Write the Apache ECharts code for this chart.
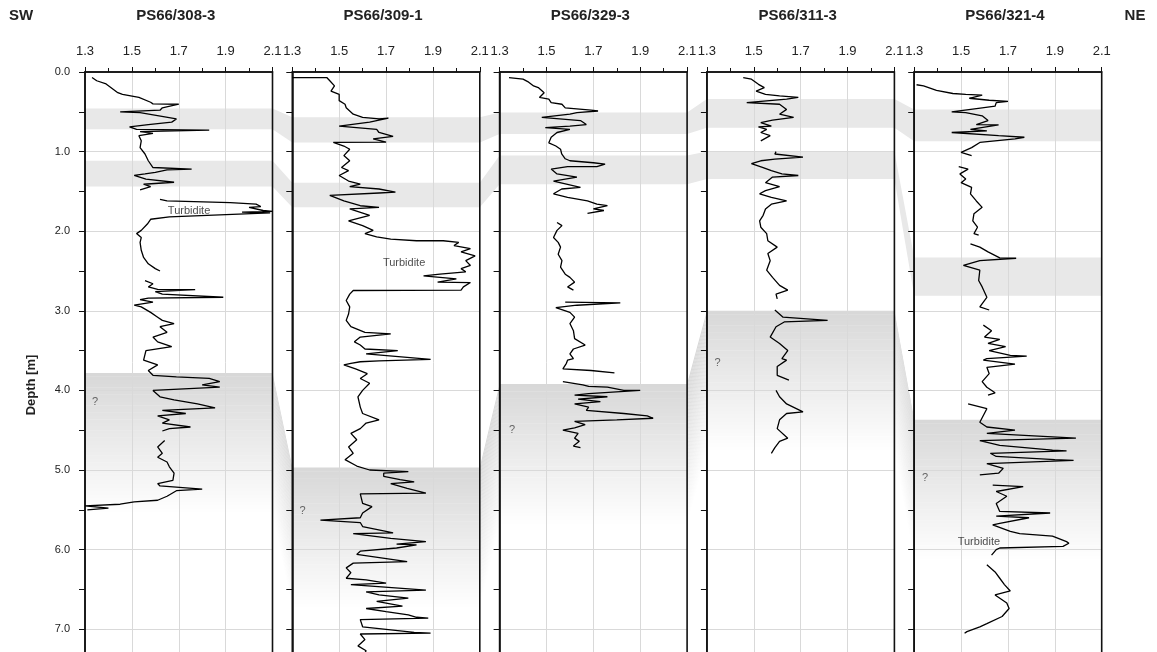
<!DOCTYPE html>
<html><head><meta charset="utf-8">
<script src="https://cdn.jsdelivr.net/npm/echarts@6.0.0/dist/echarts.min.js"></script>
<style>html,body{margin:0;padding:0;background:#fff}#c{width:1157px;height:652px}</style>
</head><body><div id="c"></div>
<script>
// ---------------- DATA ----------------
const coreNames = ['PS66/308-3', 'PS66/309-1', 'PS66/329-3', 'PS66/311-3', 'PS66/321-4'];
const sideLabels = ['SW', 'NE'];
const axisTitle = 'Depth [m]';

// [density (g/cm3), depth (m)] ; null = gap in record
const core308 = [[1.33,0.07],[1.35,0.11],[1.39,0.15],[1.44,0.26],[1.46,0.28],[1.53,0.32],[1.58,0.38],[1.59,0.40],[1.70,0.405],[1.63,0.45],[1.62,0.48],[1.45,0.50],[1.535,0.51],[1.69,0.59],[1.67,0.63],[1.57,0.66],[1.49,0.69],[1.52,0.72],[1.83,0.73],[1.535,0.75],[1.59,0.77],[1.53,0.80],[1.54,0.865],[1.535,0.95],[1.556,1.03],[1.57,1.115],[1.59,1.2],[1.755,1.22],[1.65,1.23],[1.6,1.26],[1.556,1.28],[1.51,1.30],[1.56,1.345],[1.68,1.385],[1.55,1.41],[1.58,1.44],[1.535,1.48],null,
[1.62,1.60],[1.65,1.62],[1.92,1.64],[2.03,1.66],[2.05,1.69],[2.0,1.70],[2.06,1.74],[2.1,1.75],[1.97,1.76],[2.09,1.77],[1.66,1.82],[1.58,1.85],[1.566,1.91],[1.54,1.99],[1.52,2.03],[1.54,2.08],[1.535,2.14],[1.54,2.24],[1.55,2.33],[1.57,2.41],[1.6,2.47],[1.62,2.5],null,
[1.556,2.62],[1.59,2.66],[1.57,2.70],[1.61,2.73],[1.77,2.735],[1.6,2.76],[1.63,2.79],[1.89,2.83],[1.57,2.84],[1.535,2.86],[1.59,2.89],[1.51,2.93],[1.54,2.95],[1.58,3.02],[1.61,3.08],[1.63,3.12],[1.68,3.16],[1.62,3.2],[1.65,3.27],[1.59,3.33],[1.61,3.39],[1.67,3.45],[1.56,3.5],[1.55,3.62],[1.61,3.68],[1.57,3.75],[1.59,3.81],[1.69,3.83],[1.83,3.85],[1.875,3.89],[1.8,3.93],[1.875,3.96],[1.59,4.0],[1.62,4.08],[1.68,4.12],[1.78,4.17],[1.855,4.22],[1.63,4.25],[1.73,4.29],[1.61,4.32],[1.66,4.37],[1.63,4.41],[1.75,4.46],[1.66,4.48],[1.63,4.51],null,
[1.64,4.63],[1.61,4.71],[1.63,4.79],[1.61,4.84],[1.65,4.90],[1.66,4.96],[1.68,5.04],[1.675,5.13],[1.61,5.17],[1.62,5.2],[1.80,5.24],[1.69,5.26],[1.65,5.33],[1.61,5.38],[1.51,5.4],[1.45,5.43],[1.30,5.45],[1.40,5.48],[1.31,5.5]];

const core309 = [[1.30,0.07],[1.447,0.07],[1.46,0.11],[1.48,0.175],[1.465,0.24],[1.5,0.28],[1.50,0.36],[1.525,0.405],[1.53,0.45],[1.56,0.53],[1.60,0.57],[1.67,0.59],[1.71,0.58],[1.63,0.63],[1.50,0.68],[1.66,0.72],[1.67,0.76],[1.73,0.81],[1.645,0.84],[1.70,0.88],[1.475,0.885],[1.52,0.93],[1.545,0.97],[1.52,1.05],[1.545,1.115],[1.51,1.2],[1.54,1.24],[1.50,1.30],[1.54,1.37],[1.59,1.41],[1.545,1.44],[1.67,1.47],[1.74,1.51],[1.67,1.52],[1.46,1.55],[1.52,1.62],[1.59,1.68],[1.67,1.70],[1.545,1.72],[1.63,1.80],[1.54,1.87],[1.60,1.93],[1.645,1.99],[1.61,2.03],[1.66,2.07],[1.72,2.10],[1.83,2.12],[1.944,2.12],[2.01,2.14],[1.99,2.18],[2.06,2.22],[2.02,2.26],[2.08,2.31],[2.04,2.37],[2.06,2.43],[2.02,2.47],[2.04,2.51],[1.93,2.54],[1.86,2.56],[2.0,2.6],[1.92,2.64],[2.06,2.645],[2.03,2.70],[2.02,2.74],[1.56,2.745],[1.545,2.79],[1.53,2.87],[1.545,2.95],[1.54,3.04],[1.53,3.12],[1.55,3.20],[1.61,3.27],[1.72,3.29],[1.59,3.33],[1.565,3.39],[1.59,3.43],[1.61,3.48],[1.75,3.50],[1.615,3.54],[1.89,3.61],[1.67,3.63],[1.59,3.64],[1.55,3.66],[1.52,3.68],[1.57,3.73],[1.62,3.79],[1.59,3.85],[1.63,3.91],[1.60,4.0],[1.58,4.08],[1.59,4.21],[1.60,4.29],[1.67,4.37],[1.615,4.41],[1.59,4.48],[1.55,4.54],[1.575,4.62],[1.54,4.71],[1.56,4.79],[1.525,4.87],[1.575,4.95],[1.63,5.0],[1.795,5.02],[1.69,5.04],[1.69,5.08],[1.76,5.12],[1.82,5.15],[1.72,5.17],[1.79,5.23],[1.87,5.29],[1.59,5.30],[1.60,5.42],[1.64,5.46],[1.60,5.54],[1.59,5.60],[1.42,5.63],[1.59,5.66],[1.60,5.71],[1.70,5.77],[1.73,5.79],[1.56,5.80],[1.72,5.86],[1.87,5.90],[1.745,5.93],[1.83,5.94],[1.745,5.98],[1.59,6.02],[1.575,6.06],[1.79,6.15],[1.56,6.17],[1.53,6.23],[1.55,6.29],[1.53,6.36],[1.615,6.38],[1.70,6.42],[1.55,6.44],[1.87,6.51],[1.615,6.53],[1.67,6.57],[1.795,6.61],[1.66,6.65],[1.77,6.71],[1.615,6.74],[1.70,6.78],[1.795,6.82],[1.83,6.85],[1.88,6.86],[1.59,6.88],[1.60,6.97],[1.82,7.04],[1.89,7.05],[1.59,7.06],[1.61,7.13],[1.58,7.21],[1.615,7.27],[1.60,7.35]];

const core329 = [[1.34,0.07],[1.40,0.09],[1.42,0.12],[1.445,0.175],[1.465,0.196],[1.49,0.26],[1.47,0.32],[1.51,0.34],[1.52,0.385],[1.566,0.405],[1.58,0.45],[1.69,0.48],[1.72,0.49],[1.63,0.51],[1.60,0.53],[1.48,0.57],[1.645,0.61],[1.67,0.66],[1.60,0.68],[1.495,0.70],[1.60,0.72],[1.545,0.76],[1.52,0.82],[1.51,0.89],[1.54,0.93],[1.56,0.97],[1.565,1.03],[1.58,1.09],[1.60,1.115],[1.70,1.14],[1.75,1.157],[1.715,1.19],[1.59,1.19],[1.52,1.22],[1.545,1.28],[1.63,1.32],[1.53,1.37],[1.645,1.45],[1.565,1.47],[1.53,1.53],[1.59,1.575],[1.675,1.62],[1.715,1.66],[1.76,1.68],[1.70,1.72],[1.745,1.74],[1.675,1.775],null,
[1.545,1.89],[1.566,1.93],[1.545,1.99],[1.53,2.08],[1.55,2.14],[1.56,2.20],[1.55,2.29],[1.566,2.37],[1.56,2.45],[1.58,2.54],[1.60,2.58],[1.62,2.64],[1.59,2.70],[1.615,2.74],null,
[1.58,2.89],[1.815,2.90],[1.63,2.93],[1.54,2.96],[1.60,3.02],[1.62,3.08],[1.60,3.16],[1.615,3.25],[1.62,3.35],[1.665,3.43],[1.615,3.48],[1.60,3.54],[1.615,3.60],[1.59,3.62],[1.585,3.66],[1.57,3.73],[1.69,3.75],[1.79,3.78],null,
[1.57,3.89],[1.655,3.93],[1.68,3.95],[1.76,3.96],[1.83,4.0],[1.90,4.0],[1.68,4.04],[1.62,4.06],[1.76,4.08],[1.635,4.11],[1.73,4.14],[1.62,4.17],[1.68,4.21],[1.67,4.25],[1.83,4.29],[1.93,4.32],[1.955,4.35],[1.80,4.37],[1.62,4.39],[1.665,4.43],[1.62,4.47],[1.57,4.50],[1.635,4.54],[1.62,4.60],[1.64,4.64],[1.615,4.70],[1.645,4.72]];

const core311 = [[1.455,0.07],[1.49,0.09],[1.52,0.155],[1.545,0.196],[1.51,0.24],[1.55,0.28],[1.61,0.30],[1.69,0.32],[1.64,0.34],[1.47,0.385],[1.61,0.405],[1.64,0.47],[1.61,0.53],[1.67,0.57],[1.58,0.605],[1.53,0.635],[1.575,0.68],[1.52,0.69],[1.555,0.72],[1.53,0.76],[1.57,0.80],[1.53,0.865],null,
[1.595,1.0],[1.59,1.03],[1.71,1.07],[1.59,1.094],[1.53,1.115],[1.49,1.15],[1.54,1.20],[1.575,1.24],[1.62,1.28],[1.69,1.30],[1.58,1.32],[1.55,1.39],[1.61,1.44],[1.55,1.49],[1.525,1.53],[1.575,1.575],[1.64,1.62],[1.575,1.66],[1.55,1.72],[1.54,1.80],[1.525,1.87],[1.53,1.95],[1.555,2.03],[1.56,2.12],[1.60,2.20],[1.56,2.28],[1.57,2.37],[1.555,2.49],[1.58,2.58],[1.61,2.68],[1.645,2.74],[1.595,2.79],[1.60,2.85],null,
[1.59,2.99],[1.625,3.08],[1.815,3.12],[1.63,3.14],[1.595,3.20],[1.57,3.33],[1.61,3.41],[1.645,3.50],[1.62,3.60],[1.64,3.62],[1.60,3.70],[1.60,3.81],[1.65,3.87],null,
[1.595,4.0],[1.61,4.08],[1.64,4.17],[1.71,4.27],[1.64,4.29],[1.61,4.37],[1.60,4.48],[1.645,4.60],[1.61,4.64],[1.59,4.72],[1.575,4.79]];

const core321 = [[1.31,0.16],[1.34,0.175],[1.395,0.23],[1.465,0.27],[1.52,0.28],[1.59,0.29],[1.535,0.33],[1.62,0.355],[1.70,0.37],[1.65,0.385],[1.645,0.43],[1.59,0.45],[1.46,0.50],[1.52,0.51],[1.59,0.55],[1.615,0.61],[1.565,0.66],[1.66,0.665],[1.54,0.72],[1.61,0.74],[1.46,0.76],[1.66,0.80],[1.77,0.82],[1.73,0.84],[1.58,0.885],[1.545,0.95],[1.50,1.01],[1.545,1.05],null,
[1.49,1.19],[1.53,1.22],[1.495,1.28],[1.52,1.345],[1.50,1.39],[1.545,1.45],[1.54,1.53],[1.565,1.62],[1.59,1.70],[1.555,1.78],[1.55,1.87],[1.57,1.95],[1.555,2.03],[1.575,2.05],null,
[1.54,2.16],[1.58,2.20],[1.615,2.26],[1.665,2.335],[1.735,2.34],[1.58,2.37],[1.51,2.43],[1.58,2.49],[1.575,2.62],[1.59,2.70],[1.61,2.83],[1.58,2.95],[1.62,2.99],null,
[1.595,3.18],[1.63,3.25],[1.60,3.33],[1.665,3.36],[1.615,3.41],[1.69,3.45],[1.62,3.50],[1.71,3.56],[1.78,3.57],[1.61,3.60],[1.595,3.62],[1.73,3.67],[1.61,3.71],[1.62,3.79],[1.59,3.89],[1.61,3.96],[1.645,4.03],[1.615,4.06],null,
[1.53,4.17],[1.61,4.23],[1.58,4.40],[1.61,4.46],[1.73,4.50],[1.61,4.54],[1.99,4.60],[1.58,4.63],[1.665,4.69],[1.89,4.75],[1.95,4.76],[1.625,4.79],[1.65,4.83],[1.90,4.87],[1.98,4.88],[1.61,4.92],[1.68,4.98],[1.66,5.04],[1.58,5.06],null,
[1.635,5.19],[1.765,5.21],[1.65,5.27],[1.695,5.33],[1.65,5.42],[1.665,5.52],[1.88,5.54],[1.65,5.58],[1.79,5.60],[1.665,5.67],[1.635,5.69],[1.71,5.77],[1.75,5.80],[1.89,5.83],[1.95,5.90],[1.96,5.92],[1.935,5.96],[1.665,5.98],[1.65,6.0],[1.63,6.07],null,
[1.61,6.19],[1.645,6.28],[1.665,6.36],[1.685,6.44],[1.71,6.52],[1.645,6.57],[1.695,6.67],[1.705,6.74],[1.675,6.84],[1.61,6.93],[1.58,6.97],[1.525,7.03],[1.515,7.05]];

const cores = [core308, core309, core329, core311, core321];

// correlation bands (depth, m) per core, SW -> NE
const bandUpperTop    = [0.46, 0.57, 0.51, 0.34, 0.47];
const bandUpperBottom = [0.72, 0.886, 0.78, 0.70, 0.87];
const bandLowerTop    = [1.115, 1.39, 1.05, 1.00, 2.33];
const bandLowerBottom = [1.44, 1.70, 1.41, 1.345, 2.81];
const fadeZoneTop     = [3.78, 4.97, 3.92, 3.00, 4.37];

// annotations: [coreIndex, density, depth]
const turbiditeNotes = [[0, 1.744, 1.74], [1, 1.777, 2.40], [4, 1.576, 5.90]];
const queryNotes = [[0, 1.343, 4.15], [1, 1.344, 5.52], [2, 1.353, 4.50], [3, 1.345, 3.65], [4, 1.346, 5.10]];

// ---------------- LAYOUT ----------------
const FONT = 'Arial, "Liberation Sans", sans-serif';
const L0 = 85, STEP = 207.3, PW = 187.5, TOP = 72, PXM = 79.6, DMAX = 8;
const W_REL = PW / STEP;
const FADE_LEN = 1.8;
const INK = '#111';

const grids = [], xAxes = [], yAxes = [], series = [];
for (let i = 0; i < 5; i++) {
  grids.push({left: L0 + i * STEP, top: TOP, width: PW, height: DMAX * PXM, show: true,
    outerBoundsMode: 'none', containLabel: false,
    borderColor: INK, borderWidth: 1.6, backgroundColor: 'transparent', z: 3});
  xAxes.push({gridIndex: i, type: 'value', position: 'top', min: 1.3, max: 2.1, interval: 0.2, z: 2,
    axisLine: {show: true, onZero: false, lineStyle: {color: INK, width: 1.5}},
    axisTick: {show: true, length: 5, lineStyle: {color: INK, width: 1}},
    minorTick: {show: true, splitNumber: 2, length: 4, lineStyle: {color: INK, width: 1}},
    axisLabel: {show: true, margin: 14, fontSize: 13, color: '#222', fontFamily: FONT,
      formatter: v => v.toFixed(1)},
    splitLine: {show: true, showMinLine: false, showMaxLine: false, lineStyle: {color: '#d9d9d9', width: 1}},
    minorSplitLine: {show: false}});
  yAxes.push({gridIndex: i, type: 'value', inverse: true, min: 0, max: DMAX, interval: 1, z: 2,
    axisLine: {show: true, onZero: false, lineStyle: {color: INK, width: 1.5}},
    axisTick: {show: true, length: 6, lineStyle: {color: INK, width: 1}},
    minorTick: {show: true, splitNumber: 2, length: 6, lineStyle: {color: INK, width: 1}},
    axisLabel: {show: i === 0, margin: 15, fontSize: 11, color: '#222', fontFamily: FONT,
      formatter: v => v.toFixed(1)},
    splitLine: {show: true, showMinLine: false, lineStyle: {color: '#d9d9d9', width: 1}}});
  series.push({type: 'line', xAxisIndex: i, yAxisIndex: i, z: 4, silent: true,
    symbol: 'none', connectNulls: false, animation: false,
    lineStyle: {color: '#000', width: 1.3},
    data: cores[i].map(p => p === null ? ['-', '-'] : p)});
}
// background grid spanning all panels (for correlation bands)
grids.push({left: L0, top: TOP, width: 4 * STEP + PW, height: DMAX * PXM, show: false,
  outerBoundsMode: 'none', containLabel: false});
xAxes.push({gridIndex: 5, type: 'value', min: 0, max: 4 + W_REL, show: false});
yAxes.push({gridIndex: 5, type: 'value', inverse: true, min: 0, max: DMAX, show: false});

function bandPolygon(api, tops, bottoms) {
  const pts = [];
  for (let i = 0; i < tops.length; i++) {
    pts.push(api.coord([i, tops[i]]));
    pts.push(api.coord([i + W_REL, tops[i]]));
  }
  for (let i = bottoms.length - 1; i >= 0; i--) {
    pts.push(api.coord([i + W_REL, bottoms[i]]));
    pts.push(api.coord([i, bottoms[i]]));
  }
  return pts;
}

series.push({type: 'custom', xAxisIndex: 5, yAxisIndex: 5, z: 1, silent: true, animation: false,
  data: [[0, 0], [1, 0], [2, 0]],
  renderItem: function (params, api) {
    const k = params.dataIndex;
    if (k === 0) return {type: 'polygon', shape: {points: bandPolygon(api, bandUpperTop, bandUpperBottom)}, style: {fill: '#e8e8e8'}};
    if (k === 1) return {type: 'polygon', shape: {points: bandPolygon(api, bandLowerTop, bandLowerBottom)}, style: {fill: '#e8e8e8'}};
    const N = 40, children = [];
    for (let s = 0; s < N; s++) {
      const t0 = FADE_LEN * s / N, t1 = FADE_LEN * (s + 1) / N + 0.005;
      const c = Math.round(215 + (255 - 215) * (s + 0.5) / N);
      children.push({type: 'polygon',
        shape: {points: bandPolygon(api, fadeZoneTop.map(d => d + t0), fadeZoneTop.map(d => d + t1))},
        style: {fill: `rgb(${c},${c},${c})`}});
    }
    return {type: 'group', children};
  }
});

// annotations
for (let i = 0; i < 5; i++) {
  const t = turbiditeNotes.filter(n => n[0] === i).map(n => [n[1], n[2]]);
  const q = queryNotes.filter(n => n[0] === i).map(n => [n[1], n[2]]);
  series.push({type: 'scatter', xAxisIndex: i, yAxisIndex: i, z: 5, silent: true, symbolSize: 0, animation: false,
    data: t, label: {show: true, position: 'inside', formatter: 'Turbidite', fontSize: 11, color: '#222', fontFamily: FONT}});
  series.push({type: 'scatter', xAxisIndex: i, yAxisIndex: i, z: 5, silent: true, symbolSize: 0, animation: false,
    data: q, label: {show: true, position: 'inside', formatter: '?', fontSize: 11, color: '#444', fontFamily: FONT}});
}

// text graphics
const graphics = [];
graphics.push({type: 'text', x: 21, y: 16, style: {text: sideLabels[0], font: 'bold 15px ' + FONT, fill: '#222', align: 'center', verticalAlign: 'middle'}});
graphics.push({type: 'text', x: 1135, y: 16, style: {text: sideLabels[1], font: 'bold 15px ' + FONT, fill: '#222', align: 'center', verticalAlign: 'middle'}});
for (let i = 0; i < 5; i++) {
  graphics.push({type: 'text', x: L0 + i * STEP + PW / 2 - 3, y: 16,
    style: {text: coreNames[i], font: 'bold 15px ' + FONT, fill: '#222', align: 'center', verticalAlign: 'middle'}});
}
graphics.push({type: 'text', x: 31, y: 385, rotation: Math.PI / 2,
  style: {text: axisTitle, font: 'bold 13px ' + FONT, fill: '#222', align: 'center', verticalAlign: 'middle'}});

const chart = echarts.init(document.getElementById('c'), null, {renderer: 'canvas'});
chart.setOption({
  animation: false,
  backgroundColor: '#fff',
  grid: grids, xAxis: xAxes, yAxis: yAxes, series: series, graphic: graphics
});
</script>
</body></html>
